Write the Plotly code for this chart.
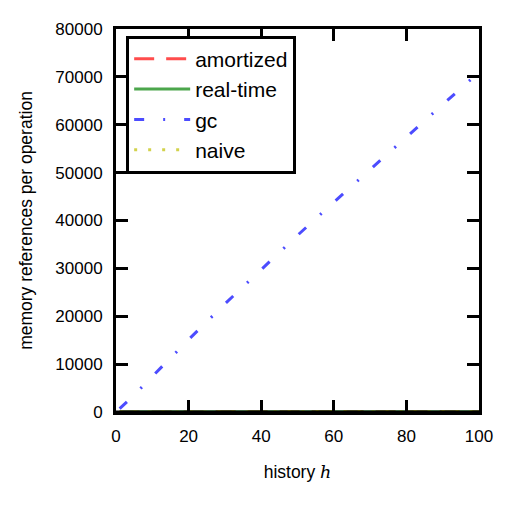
import plotly.graph_objects as go

# history length h
history = [1, 5, 10, 20, 30, 40, 50, 60, 70, 80, 90, 97, 100]

# memory references per operation
amortized = [25, 25, 26, 26, 27, 27, 27, 28, 28, 28, 29, 29, 29]
real_time = [40, 40, 41, 41, 42, 42, 43, 43, 44, 44, 45, 45, 45]
gc = [700, 3550, 7420, 15120, 22590, 29800, 36900, 43830, 50680, 57450, 64220, 68950, 70970]
naive = [10, 12, 14, 18, 22, 26, 30, 34, 38, 42, 46, 49, 50]

series = [
    ("amortized", amortized, "rgba(255,0,0,0.7)", "20px,12px"),
    ("real-time", real_time, "rgba(0,128,0,0.7)", "solid"),
    ("gc", gc, "rgba(0,0,255,0.7)", "10px,19px,2px,19px"),
    ("naive", naive, "rgba(191,191,0,0.7)", "3px,11px"),
]

fig = go.Figure()
for name, values, color, dash in series:
    fig.add_trace(
        go.Scatter(
            x=history,
            y=values,
            mode="lines",
            name=name,
            line=dict(color=color, width=3, dash=dash),
        )
    )

axis_common = dict(
    showgrid=False,
    zeroline=False,
    showline=True,
    linecolor="black",
    linewidth=3,
    mirror="ticks",
    ticks="inside",
    ticklen=12,
    tickwidth=2.5,
    tickcolor="black",
    tickfont=dict(size=17, color="black"),
    ticklabelstandoff=7,
)

fig.update_layout(
    width=512,
    height=512,
    # page body adds 8px on the top/left
    margin=dict(l=108, r=41, t=19, b=108),
    plot_bgcolor="white",
    paper_bgcolor="white",
    font=dict(family="Liberation Sans, Arial, sans-serif", color="black"),
    xaxis=dict(
        range=[0, 100],
        tickvals=[0, 20, 40, 60, 80, 100],
        title=dict(
            text="history <span style='font-family:DejaVu Serif'><i>h</i></span>",
            font=dict(size=17.5),
            standoff=21,
        ),
        **axis_common,
    ),
    yaxis=dict(
        range=[0, 80000],
        tickvals=list(range(0, 80001, 10000)),
        tickformat="d",
        title=dict(
            text="memory references per operation",
            font=dict(size=17.5),
            standoff=19,
        ),
        **axis_common,
    ),
    legend=dict(
        x=0.028,
        y=0.9826,
        xanchor="left",
        yanchor="top",
        bgcolor="white",
        bordercolor="black",
        borderwidth=3,
        font=dict(size=21),
        itemwidth=56,
    ),
    showlegend=True,
    # bottom spine sits over the near-zero curves, as in the original
    shapes=[
        dict(
            type="line",
            xref="paper",
            yref="y",
            x0=0,
            x1=1,
            y0=0,
            y1=0,
            line=dict(color="black", width=3),
            layer="above",
        )
    ],
)

fig.write_html("out.html")
